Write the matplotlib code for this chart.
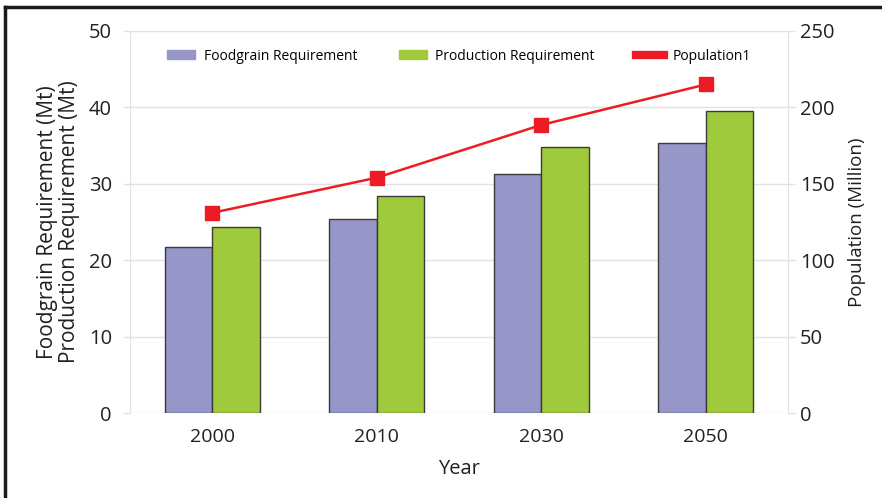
import matplotlib.pyplot as plt
import numpy as np
from matplotlib.lines import Line2D
from matplotlib.patches import Patch

plt.rcParams['font.family'] = ['Open Sans', 'DejaVu Sans']

years = ['2000', '2010', '2030', '2050']
foodgrain = [21.7, 25.4, 31.3, 35.3]
production = [24.3, 28.4, 34.8, 39.5]
population = [131, 154, 188.5, 215]

C_FOOD = '#9696c8'
C_PROD = '#9fca3c'
C_POP = '#ed1c24'
C_GRID = '#e2e2e2'
C_TEXT = '#231f20'

fig = plt.figure(figsize=(8.82, 4.98), dpi=100)
ax = fig.add_axes([130 / 882, 1 - 413 / 498, 658 / 882, 382 / 498])
ax2 = ax.twinx()

x = np.arange(len(years))
w = 0.29
ax.bar(x - w / 2, foodgrain, w, color=C_FOOD, edgecolor='#3a3a3a', linewidth=1, zorder=3)
ax.bar(x + w / 2, production, w, color=C_PROD, edgecolor='#3a3a3a', linewidth=1, zorder=3)
ax2.plot(x, population, color=C_POP, lw=1.8, marker='s', markersize=9.5, zorder=4)

ax.set_xlim(-0.5, 3.5)
ax.set_ylim(0, 50)
ax2.set_ylim(0, 250)
ax.set_yticks(range(0, 51, 10))
ax2.set_yticks(range(0, 251, 50))
ax.set_xticks(x)
ax.set_xticklabels(years)

ax.grid(axis='y', color=C_GRID, lw=1, zorder=0)
for a in (ax, ax2):
    for s in a.spines.values():
        s.set_visible(False)
    a.tick_params(axis='both', colors=C_GRID, labelcolor=C_TEXT, labelsize=14.5, length=5, width=1)
ax.spines['left'].set_visible(True)
ax.spines['left'].set_color(C_GRID)
ax2.spines['right'].set_visible(True)
ax2.spines['right'].set_color(C_GRID)
ax.tick_params(axis='y', pad=8)
ax.tick_params(axis='x', length=0, pad=11, labelsize=14)

ax.set_xlabel('Year', fontsize=14.5, color=C_TEXT, labelpad=9)
ax.set_ylabel('Foodgrain Requirement (Mt)\nProduction Requirement (Mt)', fontsize=15,
              color=C_TEXT, linespacing=1.1, labelpad=6)
ax2.set_ylabel('Population (Million)', fontsize=13.5, color=C_TEXT, labelpad=10)

handles = [Patch(color=C_FOOD), Patch(color=C_PROD), Line2D([], [], color=C_POP, lw=6)]
labels = ['Foodgrain Requirement', 'Production Requirement', 'Population1']
ax2.legend(handles, labels, loc='center', bbox_to_anchor=(0.5, 1 - 25 / 382), ncol=3,
           frameon=False, fontsize=10, handlelength=2.0, handleheight=0.6,
           columnspacing=3.0, handletextpad=0.6, borderpad=0)

# frame around the figure (top and left edges visible)
fig.add_artist(Line2D([5 / 882, 1], [1 - 7 / 498, 1 - 7 / 498], color='#1a1a1a', lw=2.5,
                      transform=fig.transFigure))
fig.add_artist(Line2D([5 / 882, 5 / 882], [0, 1 - 7 / 498], color='#1a1a1a', lw=2.5,
                      transform=fig.transFigure))

fig.savefig('out.png', dpi=100)
